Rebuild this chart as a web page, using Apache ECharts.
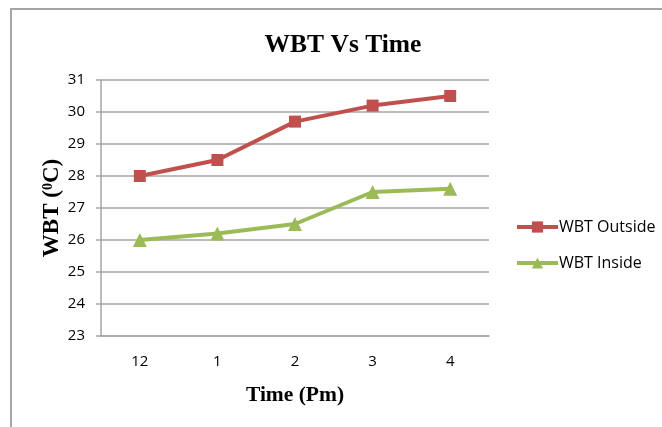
<!DOCTYPE html>
<html>
<head>
<meta charset="utf-8">
<style>
  html, body { margin: 0; padding: 0; background: #fff; }
  #chart { width: 662px; height: 427px; }
</style>
<script src="https://cdn.jsdelivr.net/npm/echarts@6/dist/echarts.min.js"></script>
</head>
<body>
<div id="chart"></div>
<script>
// Wet bulb temperature readings through the afternoon
const times = ['12', '1', '2', '3', '4'];
const wbtOutside = [28, 28.5, 29.7, 30.2, 30.5];
const wbtInside = [26, 26.2, 26.5, 27.5, 27.6];
const yTicks = { min: 23, max: 31, interval: 1 };

const chart = echarts.init(document.getElementById('chart'), null, { renderer: 'canvas' });

const serif = '"Liberation Serif", "Times New Roman", serif';
const sans = '"Open Sans", "Liberation Sans", sans-serif';

chart.setOption({
  backgroundColor: '#ffffff',
  animation: false,
  graphic: [{
    type: 'polyline',
    shape: { points: [[11, 427], [11, 9], [662, 9]] },
    style: { stroke: '#a6a6a6', lineWidth: 2, fill: null },
    silent: true
  }],
  title: {
    text: 'WBT Vs Time',
    left: 338,
    textAlign: 'center',
    top: 27,
    textStyle: { fontFamily: serif, fontWeight: 'bold', fontSize: 25.5, color: '#000' }
  },
  legend: {
    orient: 'vertical',
    left: 515,
    top: 219,
    padding: 0,
    itemGap: 20,
    itemWidth: 41,
    itemHeight: 14,
    lineStyle: { width: 4 },
    textStyle: { fontFamily: sans, fontSize: 16, color: '#000', padding: [0, 0, 0, -4] },
    data: ['WBT Outside', 'WBT Inside']
  },
  grid: { left: 101, right: 173, top: 80, bottom: 91, containLabel: false },
  xAxis: {
    type: 'category',
    data: times,
    boundaryGap: true,
    name: 'Time (Pm)',
    nameLocation: 'middle',
    nameGap: 48,
    nameTextStyle: { fontFamily: serif, fontWeight: 'bold', fontSize: 21.5, color: '#000' },
    axisLine: { lineStyle: { color: '#a6a6a6', width: 1.5 } },
    axisTick: { show: false },
    axisLabel: { fontFamily: sans, fontSize: 15, color: '#000', margin: 18 },
    splitLine: { show: false }
  },
  yAxis: {
    type: 'value',
    min: yTicks.min,
    max: yTicks.max,
    interval: yTicks.interval,
    name: '{a|WBT (}{sup|0}{a|C)}',
    nameLocation: 'middle',
    nameGap: 37,
    nameMoveOverlap: false,
    nameRotate: 90,
    nameTextStyle: {
      rich: {
        a: { fontFamily: serif, fontWeight: 'bold', fontSize: 23, color: '#000' },
        sup: { fontFamily: serif, fontWeight: 'bold', fontSize: 14, color: '#000', verticalAlign: 'top', padding: [0, 0, 9, 0] }
      }
    },
    axisLine: { show: true, lineStyle: { color: '#a6a6a6', width: 1.5 } },
    axisTick: { show: true, length: 5, lineStyle: { color: '#a6a6a6', width: 1.5 } },
    axisLabel: { fontFamily: sans, fontSize: 15, color: '#000', margin: 16 },
    splitLine: { lineStyle: { color: '#a6a6a6', width: 1.5 } }
  },
  series: [
    {
      name: 'WBT Outside',
      type: 'line',
      data: wbtOutside,
      symbol: 'rect',
      symbolSize: 12,
      color: '#C0504D',
      lineStyle: { width: 4, color: '#C0504D' },
      itemStyle: { color: '#C0504D' }
    },
    {
      name: 'WBT Inside',
      type: 'line',
      data: wbtInside,
      symbol: 'triangle',
      symbolSize: 14,
      color: '#9BBB59',
      lineStyle: { width: 4, color: '#9BBB59' },
      itemStyle: { color: '#9BBB59' }
    }
  ]
});
</script>
</body>
</html>
